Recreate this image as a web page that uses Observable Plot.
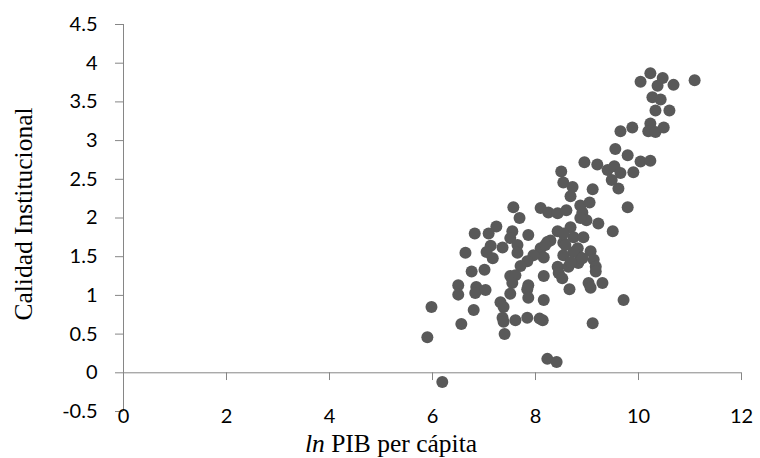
<!DOCTYPE html>
<html><head><meta charset="utf-8">
<script src="https://cdn.jsdelivr.net/npm/d3@7"></script>
<script src="https://cdn.jsdelivr.net/npm/@observablehq/plot@0.6"></script>
<style>body{margin:0;background:#fff}#chart svg{display:block}</style>
</head><body><div id="chart"></div>
<script>
const lnPIB = [
10.04,10.23,10.47,10.68,11.09,10.37,10.27,10.43,10.33,10.60,
9.65,9.88,10.23,10.19,10.33,10.49,9.55,9.79,10.04,10.23,
8.95,9.20,9.40,9.53,9.65,9.90,9.48,9.61,9.11,9.79,
8.50,8.54,8.72,8.68,8.10,8.25,8.43,8.60,8.87,9.05,
8.91,8.99,9.22,9.50,8.87,8.43,8.68,8.74,8.93,8.54,
8.82,9.07,8.23,8.10,8.54,8.87,9.13,8.43,9.17,8.16,
8.74,8.83,8.64,8.45,8.52,8.16,9.17,9.03,9.07,9.30,
8.66,8.16,9.71,8.14,9.11,8.23,8.41,7.57,7.69,7.24,
7.09,6.82,7.55,7.86,7.51,8.54,8.29,8.19,7.96,7.84,
7.71,7.36,7.13,7.05,7.17,6.64,7.65,7.65,8.58,8.68,
8.91,6.76,7.01,7.51,7.61,7.55,6.50,6.50,6.85,6.83,
7.03,7.86,7.84,7.86,7.51,7.32,7.38,7.36,7.38,7.61,
7.84,8.08,6.80,5.98,6.56,5.90,7.40,6.19
];
const calidad = [
3.76,3.87,3.81,3.72,3.78,3.71,3.56,3.53,3.39,3.39,
3.12,3.17,3.22,3.12,3.11,3.17,2.89,2.81,2.73,2.74,
2.72,2.69,2.62,2.67,2.58,2.59,2.49,2.38,2.37,2.14,
2.60,2.46,2.40,2.28,2.13,2.07,2.06,2.10,2.16,2.20,
2.07,1.97,1.93,1.83,2.00,1.83,1.88,1.75,1.75,1.68,
1.61,1.57,1.69,1.61,1.52,1.49,1.46,1.37,1.37,1.49,
1.56,1.42,1.37,1.29,1.22,1.25,1.31,1.16,1.10,1.16,
1.08,0.94,0.94,0.68,0.64,0.18,0.14,2.14,2.00,1.89,
1.80,1.80,1.83,1.78,1.74,1.80,1.71,1.65,1.52,1.44,
1.38,1.62,1.64,1.56,1.48,1.55,1.65,1.55,1.65,1.43,
1.48,1.31,1.33,1.25,1.26,1.16,1.13,1.01,1.11,1.03,
1.07,1.13,1.08,0.97,1.02,0.91,0.85,0.71,0.66,0.68,
0.71,0.70,0.81,0.85,0.63,0.46,0.50,-0.12
];
const xTicks = [0, 2, 4, 6, 8, 10, 12];
const xTickLabels = ["0", "2", "4", "6", "8", "10", "12"];
const yTicks = [-0.5, 0, 0.5, 1, 1.5, 2, 2.5, 3, 3.5, 4, 4.5];
const yTickLabels = ["-0.5", "0", "0.5", "1", "1.5", "2", "2.5", "3", "3.5", "4", "4.5"];
const yTitle = "Calidad Institucional";
const xTitleItalic = "ln";
const xTitleRest = " PIB per cápita";

const data = lnPIB.map((x, i) => ({x, y: calidad[i]}));
const axisColor = "#868686";

const chart = Plot.plot({
  width: 760, height: 458,
  marginLeft: 123, marginRight: 19, marginTop: 24, marginBottom: 47,
  style: {fontFamily: "Lato", fontSize: "20px", color: "#000", background: "#fff"},
  x: {domain: [0, 12]},
  y: {domain: [-0.5, 4.5]},
  marks: [
    Plot.ruleX([0], {stroke: axisColor}),
    Plot.ruleY([0], {stroke: axisColor}),
    Plot.ruleX(xTicks.filter(d => d !== 0), {x: d => d, y1: 0, y2: -0.1, stroke: axisColor}),
    Plot.axisY(yTicks, {tickSize: 8, tickPadding: 18, stroke: axisColor, fill: "#000",
      tickFormat: d => yTickLabels[yTicks.indexOf(d)], label: null}),
    Plot.axisX(xTicks, {tickSize: 0, tickPadding: 0, dy: -3, fill: "#000",
      tickFormat: d => xTickLabels[xTicks.indexOf(d)], label: null}),
    Plot.dot(data, {x: "x", y: "y", r: 6, fill: "#595959", stroke: "none"})
  ]
});
document.getElementById("chart").appendChild(chart);

const svg = d3.select(chart);
svg.append("text")
  .attr("transform", "translate(32,214) rotate(-90)")
  .attr("text-anchor", "middle")
  .attr("font-family", "Liberation Serif")
  .attr("font-size", 25.5)
  .attr("fill", "#000")
  .text(yTitle);
const t = svg.append("text")
  .attr("x", 391).attr("y", 452)
  .attr("text-anchor", "middle")
  .attr("font-family", "Liberation Serif")
  .attr("font-size", 25.5)
  .attr("fill", "#000");
t.append("tspan").attr("font-style", "italic").text(xTitleItalic);
t.append("tspan").text(xTitleRest);
</script>
</body></html>
